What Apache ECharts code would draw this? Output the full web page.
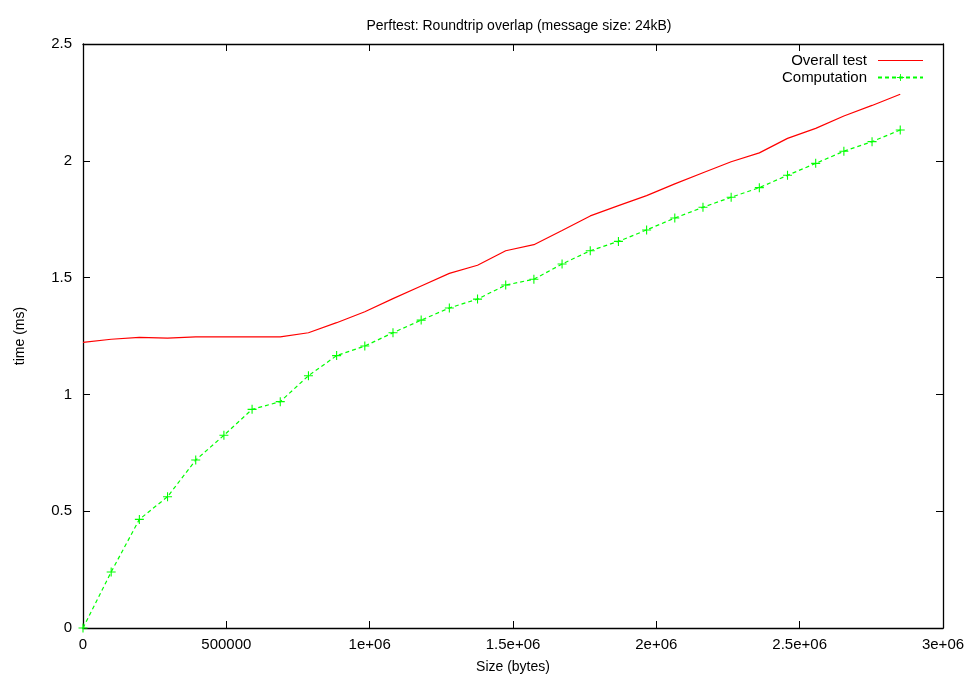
<!DOCTYPE html>
<html>
<head>
<meta charset="utf-8">
<script src="https://cdn.jsdelivr.net/npm/echarts@6/dist/echarts.min.js"></script>
<style>
html,body{margin:0;padding:0;background:#fff;}
#chart{width:969px;height:674px;}
</style>
</head>
<body>
<div id="chart"></div>
<script>
var sizes = [0, 98304, 196608, 294912, 393216, 491520, 589824, 688128, 786432, 884736,
  983040, 1081344, 1179648, 1277952, 1376256, 1474560, 1572864, 1671168, 1769472, 1867776,
  1966080, 2064384, 2162688, 2260992, 2359296, 2457600, 2555904, 2654208, 2752512, 2850816];
var overall = [1.223, 1.236, 1.244, 1.241, 1.246, 1.246, 1.246, 1.246, 1.264, 1.307,
  1.354, 1.41, 1.464, 1.518, 1.553, 1.615, 1.641, 1.702, 1.764, 1.808,
  1.851, 1.901, 1.949, 1.996, 2.034, 2.096, 2.139, 2.192, 2.237, 2.285];
var computation = [0, 0.24, 0.465, 0.562, 0.719, 0.825, 0.936, 0.969, 1.08, 1.166,
  1.207, 1.264, 1.318, 1.37, 1.408, 1.468, 1.493, 1.558, 1.615, 1.655,
  1.704, 1.755, 1.801, 1.844, 1.885, 1.938, 1.989, 2.041, 2.082, 2.132];
var xTickValues = [0, 500000, 1000000, 1500000, 2000000, 2500000, 3000000];
var xTickLabels = ['0', '500000', '1e+06', '1.5e+06', '2e+06', '2.5e+06', '3e+06'];
var yTickValues = [0, 0.5, 1, 1.5, 2, 2.5];
var yTickLabels = ['0', '0.5', '1', '1.5', '2', '2.5'];

var FONT = 'Liberation Sans, Arial, sans-serif';
function pair(xs, ys) { return xs.map(function (x, i) { return [x, ys[i]]; }); }
function xfmt(v) { var i = xTickValues.indexOf(v); return i >= 0 ? xTickLabels[i] : ''; }
function yfmt(v) {
  for (var i = 0; i < yTickValues.length; i++) if (Math.abs(yTickValues[i] - v) < 1e-9) return yTickLabels[i];
  return '';
}
var axisLine = { show: true, onZero: false, lineStyle: { color: '#000', width: 1.3 } };
var tick = { show: true, inside: true, length: 7, lineStyle: { color: '#000', width: 1 } };
var plus = 'path://M4.4,0H5.6V4.4H10V5.6H5.6V10H4.4V5.6H0V4.4H4.4Z';

var chart = echarts.init(document.getElementById('chart'), null, { renderer: 'canvas' });
chart.setOption({
  animation: false,
  backgroundColor: '#fff',
  title: {
    text: 'Perftest: Roundtrip overlap (message size: 24kB)',
    left: 514, top: 14, textAlign: 'center',
    textStyle: { fontFamily: FONT, fontSize: 14, fontWeight: 'normal', color: '#000' }
  },
  legend: {
    right: 45, top: 52, orient: 'vertical', align: 'right', padding: 0,
    itemWidth: 45, itemHeight: 9, itemGap: 0,
    textStyle: { fontFamily: FONT, fontSize: 15, lineHeight: 17, color: '#000', padding: [0, 6, 0, 0] },
    data: [
      { name: 'Overall test', icon: 'path://M0,4.4H45V5.6H0Z' },
      { name: 'Computation' }
    ]
  },
  grid: { left: 83, right: 26, top: 44, bottom: 46, show: false, containLabel: false, outerBoundsMode: 'none' },
  xAxis: [{
    type: 'value', min: 0, max: 3000000, interval: 500000,
    name: 'Size (bytes)', nameLocation: 'middle', nameGap: 32,
    nameTextStyle: { fontFamily: FONT, fontSize: 14, color: '#000' },
    axisLine: axisLine, axisTick: tick, splitLine: { show: false },
    axisLabel: { formatter: xfmt, fontFamily: FONT, fontSize: 15, color: '#000', margin: 9 }
  }, {
    type: 'value', min: 0, max: 3000000, interval: 500000, position: 'top',
    axisLine: axisLine, axisTick: tick, splitLine: { show: false }, axisLabel: { show: false }
  }],
  yAxis: [{
    type: 'value', min: 0, max: 2.5, interval: 0.5,
    name: 'time (ms)', nameLocation: 'middle', nameGap: 56, nameRotate: 90,
    nameTextStyle: { fontFamily: FONT, fontSize: 14, color: '#000' },
    axisLine: axisLine, axisTick: tick, splitLine: { show: false },
    axisLabel: { formatter: yfmt, fontFamily: FONT, fontSize: 15, color: '#000', margin: 11 }
  }, {
    type: 'value', min: 0, max: 2.5, interval: 0.5, position: 'right',
    axisLine: axisLine, axisTick: tick, splitLine: { show: false }, axisLabel: { show: false }
  }],
  series: [{
    name: 'Overall test', type: 'line', data: pair(sizes, overall),
    showSymbol: false, symbol: 'none',
    lineStyle: { color: '#ff0000', width: 1.2 }, itemStyle: { color: '#ff0000' }
  }, {
    name: 'Computation', type: 'line', data: pair(sizes, computation),
    symbol: plus, symbolSize: 9,
    lineStyle: { color: '#00ff00', width: 1.2, type: [4, 3] }, itemStyle: { color: '#00ff00' }
  }]
});
</script>
</body>
</html>
